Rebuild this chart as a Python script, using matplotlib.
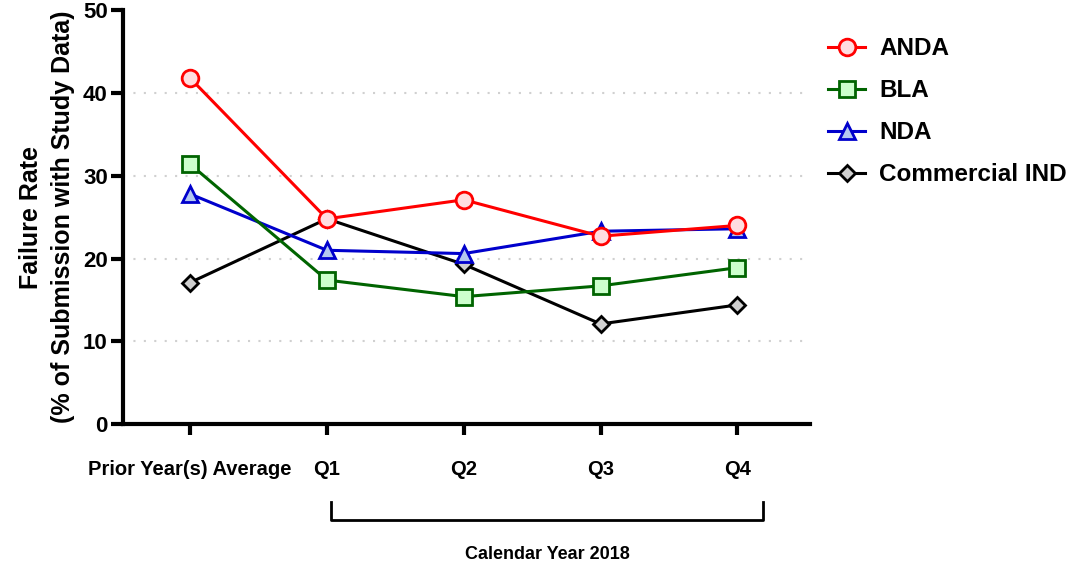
import matplotlib.pyplot as plt

plt.rcParams['font.family'] = ['Liberation Sans', 'DejaVu Sans']
plt.rcParams['font.weight'] = 'bold'

categories = ["Prior Year(s) Average", "Q1", "Q2", "Q3", "Q4"]
anda = [41.8, 24.8, 27.1, 22.7, 24.0]
bla = [31.4, 17.4, 15.4, 16.7, 18.9]
nda = [27.8, 21.0, 20.6, 23.3, 23.6]
commercial_ind = [17.1, 24.8, 19.3, 12.1, 14.4]

fig = plt.figure(figsize=(10.7, 5.67), dpi=100)
ax = fig.add_axes([0.115, 0.252, 0.642, 0.73])

xs = list(range(len(categories)))

# (name, values, line colour, marker face, marker, size)
series = [
    ("ANDA", anda, "#ff0000", "#ffdde0", "o", 12),
    ("BLA", bla, "#006400", "#ccffcc", "s", 11),
    ("NDA", nda, "#0000cc", "#b4c8f0", "^", 11),
    ("Commercial IND", commercial_ind, "#000000", "#d0d0d0", "D", 8),
]
for i, (name, vals, col, face, mk, ms) in enumerate(series):
    ax.plot(xs, vals, color=col, lw=2.2, marker=mk, markersize=ms,
            markerfacecolor=face, markeredgecolor=col, markeredgewidth=2,
            label=name, clip_on=False, zorder=10 - i)

ax.set_xlim(-0.49, 4.53)
ax.set_ylim(0, 50)
ax.set_yticks([0, 10, 20, 30, 40, 50])
ax.set_xticks(xs)
ax.set_xticklabels(categories, fontsize=14.5, fontweight='bold')
for lab in ax.get_yticklabels():
    lab.set_fontsize(16)
    lab.set_fontweight('bold')

for y in [10, 20, 30, 40]:
    ax.axhline(y, color="#d0d0d0", lw=1.5, ls=(0, (1, 4)), zorder=1)

for s in ["top", "right"]:
    ax.spines[s].set_visible(False)
for s in ["left", "bottom"]:
    ax.spines[s].set_linewidth(3)
ax.tick_params(axis='y', length=9, width=3, pad=2)
ax.tick_params(axis='x', length=8, width=3, pad=18)

ax.set_ylabel("Failure Rate\n(% of Submission with Study Data)", fontsize=18,
              fontweight='bold', labelpad=6, linespacing=1.4)

# bracket for calendar year 2018
tr = ax.get_xaxis_transform()
ax.plot([1.03, 1.03, 4.19, 4.19], [-0.188, -0.232, -0.232, -0.188],
        color="black", lw=2, transform=tr, clip_on=False)
ax.text(2.61, -0.315, "Calendar Year 2018", transform=tr, ha='center', va='center',
        fontsize=13, fontweight='bold')

leg = ax.legend(loc='upper left', bbox_to_anchor=(0.995, 0.987), frameon=False,
                fontsize=17.5, handlelength=1.5, handletextpad=0.6, labelspacing=0.78)
for t in leg.get_texts():
    t.set_fontweight('bold')

fig.savefig("out.png", dpi=100)
